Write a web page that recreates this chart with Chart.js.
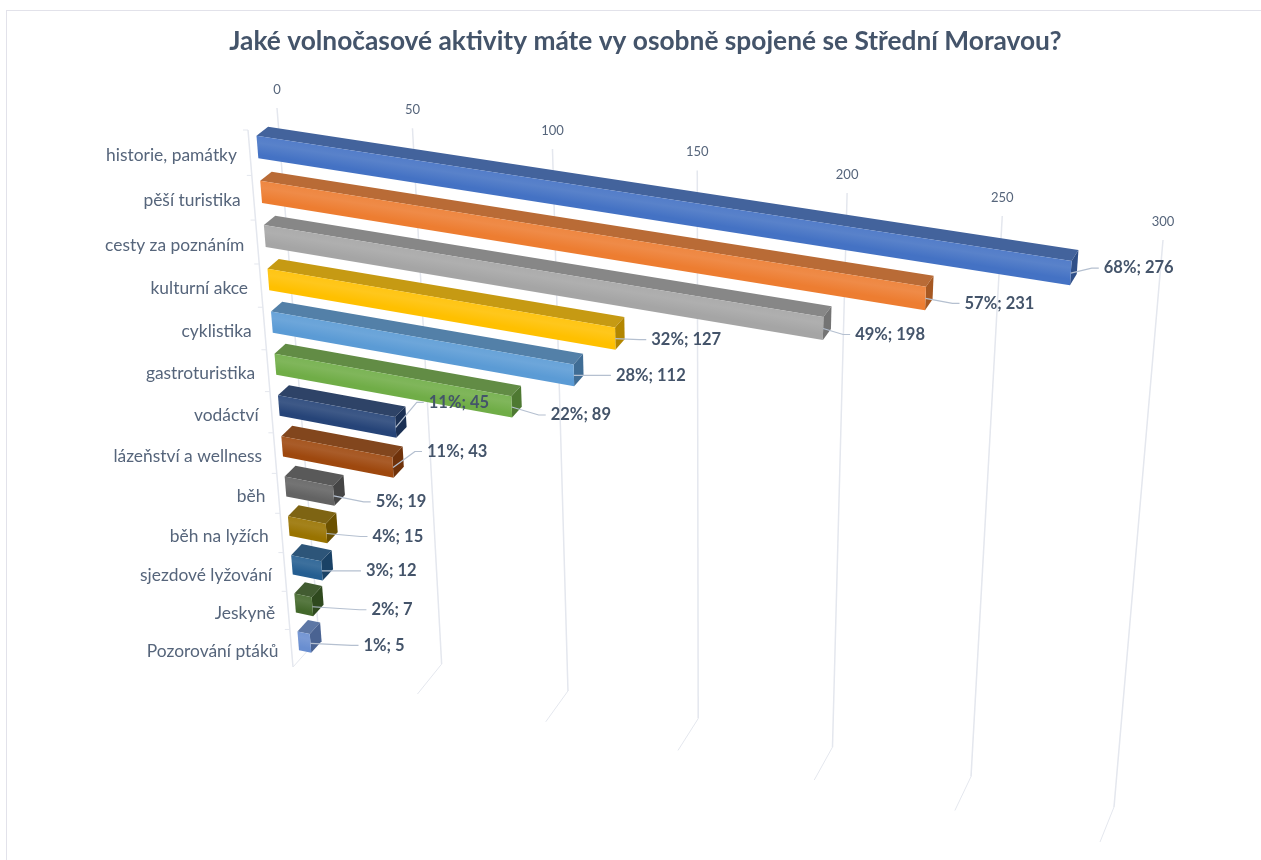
<!DOCTYPE html>
<html lang="cs">
<head>
    <meta charset="UTF-8">
    <title>Volnočasové aktivity</title>
    <script src="https://cdn.jsdelivr.net/npm/chart.js"></script>
    <style>
        body { margin: 0; background: #fff; overflow: hidden; }
        #ramecek { position: absolute; left: 6px; top: 10px; right: 0; bottom: 0; border-left: 1px solid #e2e2ea; border-top: 1px solid #e2e2ea; }
        canvas { position: absolute; left: 0; top: 0; }
    </style>
</head>
<body>
<div id="ramecek"></div>
<canvas id="myChart" width="1261" height="860"></canvas>
<script>
const titulek = 'Jaké volnočasové aktivity máte vy osobně spojené se Střední Moravou?';
const kategorie = ['historie, památky', 'pěší turistika', 'cesty za poznáním', 'kulturní akce', 'cyklistika', 'gastroturistika', 'vodáctví', 'lázeňství a wellness', 'běh', 'běh na lyžích', 'sjezdové lyžování', 'Jeskyně', 'Pozorování ptáků'];
const hodnoty = [276, 231, 198, 127, 112, 89, 45, 43, 19, 15, 12, 7, 5];
const procenta = [68, 57, 49, 32, 28, 22, 11, 11, 5, 4, 3, 2, 1];
const barvy = ['#4472C4', '#ED7D31', '#A5A5A5', '#FFC000', '#5B9BD5', '#70AD47', '#264478', '#9E480E', '#636363', '#997300', '#255E91', '#43682B', '#698ED0'];

// layout of the fake 3D box: back wall and front plane corners (TL, TR, BR, BL)
const STENA = [[277, 108], [1163, 240], [1114, 807], [319, 638]];
const PREDEK = [[248, 130], [1147, 268], [1100, 842], [293, 667]];
const HLOUBKA_ZADNI = 0.34, HLOUBKA_PREDNI = 0.74;
// where each data label sits relative to the end of its bar
const posunPopisku = [[33, -5], [39, 5], [32, 6], [36, 1], [42, 0], [39, 8], [33, -25], [34, -16], [42, 6], [46, 3], [44, 0], [59, 3], [53, 2]];

const BARVA_TEXTU = '#44546A';
const BARVA_OS = '#56657b';
const BARVA_MRIZKY = '#e4e7ee';
const BARVA_VODICE = '#b5c0d0';

// unit square -> quad
function ctverecNaQuad(q) {
    const [[x0, y0], [x1, y1], [x2, y2], [x3, y3]] = q;
    const dx1 = x1 - x2, dx2 = x3 - x2, sx = x0 - x1 + x2 - x3;
    const dy1 = y1 - y2, dy2 = y3 - y2, sy = y0 - y1 + y2 - y3;
    const det = dx1 * dy2 - dx2 * dy1;
    const g = (sx * dy2 - dx2 * sy) / det;
    const h = (dx1 * sy - sx * dy1) / det;
    const a = x1 - x0 + g * x1, b = x3 - x0 + h * x3;
    const d = y1 - y0 + g * y1, e = y3 - y0 + h * y3;
    return function (u, v) {
        const w = g * u + h * v + 1;
        return [(a * u + b * v + x0) / w, (d * u + e * v + y0) / w];
    };
}
const naStenu = ctverecNaQuad(STENA);
const naPredek = ctverecNaQuad(PREDEK);

function bod3d(u, v, d) {
    const a = naStenu(u, v), b = naPredek(u, v);
    return [a[0] + (b[0] - a[0]) * d, a[1] + (b[1] - a[1]) * d];
}

function hexNaRgb(hex) {
    return [1, 3, 5].map(i => parseInt(hex.substr(i, 2), 16));
}
function smes(hex, s, t) {
    const a = hexNaRgb(hex), b = hexNaRgb(s);
    return 'rgb(' + a.map((v, i) => Math.round(v + (b[i] - v) * t)).join(',') + ')';
}
function polygon(ctx, body, fill) {
    ctx.beginPath();
    body.forEach((p, i) => i ? ctx.lineTo(p[0], p[1]) : ctx.moveTo(p[0], p[1]));
    ctx.closePath();
    ctx.fillStyle = fill;
    ctx.fill();
}

const kresba3d = {
    id: 'kresba3d',
    beforeDatasetsDraw(chart) {
        const ctx = chart.ctx, area = chart.chartArea;
        const sx = chart.scales.x, sy = chart.scales.y;
        const U = px => (px - area.left) / area.width;
        const V = px => (px - area.top) / area.height;

        ctx.save();
        // value axis: gridlines on the wall, floor part, tick label above
        ctx.textAlign = 'center';
        ctx.textBaseline = 'middle';
        ctx.font = '13px Lato';
        sx.ticks.forEach(t => {
            const u = U(sx.getPixelForValue(t.value));
            const a = bod3d(u, 0, 0), b = bod3d(u, 1, 0), c = bod3d(u, 1, 1);
            ctx.strokeStyle = BARVA_MRIZKY;
            ctx.lineWidth = 1.5;
            ctx.beginPath();
            ctx.moveTo(a[0], a[1]);
            ctx.lineTo(b[0], b[1]);
            ctx.stroke();
            ctx.lineWidth = 1;
            ctx.beginPath();
            ctx.moveTo(b[0], b[1]);
            ctx.lineTo(c[0], c[1]);
            ctx.stroke();
            ctx.fillStyle = BARVA_OS;
            ctx.fillText(t.label, a[0], a[1] - 18.5);
        });

        // category axis on the front plane
        const osa0 = bod3d(0, 0, 1), osa1 = bod3d(0, 1, 1);
        ctx.strokeStyle = BARVA_MRIZKY;
        ctx.lineWidth = 1.5;
        ctx.beginPath();
        ctx.moveTo(osa0[0], osa0[1]);
        ctx.lineTo(osa1[0], osa1[1]);
        ctx.stroke();
        ctx.lineWidth = 1;
        ctx.textAlign = 'right';
        ctx.font = '17.4px Lato';
        const krok = sy.getPixelForValue(1) - sy.getPixelForValue(0);
        sy.ticks.forEach((t, i) => {
            const py = sy.getPixelForValue(i);
            const h = bod3d(0, V(py - krok / 2), 1);
            ctx.beginPath();
            ctx.moveTo(h[0], h[1]);
            ctx.lineTo(h[0] - 5, h[1]);
            ctx.stroke();
            const p = bod3d(0, V(py), 1);
            ctx.fillStyle = BARVA_OS;
            ctx.fillText(t.label, p[0] - 13, p[1] + 3);
        });

        // bars
        const meta = chart.getDatasetMeta(0);
        const barvyDat = chart.data.datasets[0].backgroundColor;
        const konce = [];
        meta.data.forEach((el, i) => {
            const p = el.getProps(['x', 'y', 'base', 'height']);
            const u0 = U(p.base), u1 = U(p.x);
            const v0 = V(p.y - p.height / 2), v1 = V(p.y + p.height / 2);
            const d0 = HLOUBKA_ZADNI, d1 = HLOUBKA_PREDNI;
            const barva = barvyDat[i];

            polygon(ctx, [bod3d(u0, v0, d0), bod3d(u1, v0, d0), bod3d(u1, v0, d1), bod3d(u0, v0, d1)], smes(barva, '#404040', 0.3));
            polygon(ctx, [bod3d(u1, v0, d1), bod3d(u1, v0, d0), bod3d(u1, v1, d0), bod3d(u1, v1, d1)], smes(barva, '#000000', 0.3));

            // gradient runs across the bar, square to its top edge
            const tl = bod3d(u0, v0, d1), tr = bod3d(u1, v0, d1);
            const g0 = bod3d((u0 + u1) / 2, v0, d1), g1 = bod3d((u0 + u1) / 2, v1, d1);
            const delka = Math.hypot(tr[0] - tl[0], tr[1] - tl[1]);
            const nx = -(tr[1] - tl[1]) / delka, ny = (tr[0] - tl[0]) / delka;
            const sk = (g1[0] - g0[0]) * nx + (g1[1] - g0[1]) * ny;
            const grad = ctx.createLinearGradient(g0[0], g0[1], g0[0] + nx * sk, g0[1] + ny * sk);
            grad.addColorStop(0, smes(barva, '#ffffff', 0.08));
            grad.addColorStop(0.3, smes(barva, '#ffffff', 0.11));
            grad.addColorStop(0.8, barva);
            grad.addColorStop(1, barva);
            polygon(ctx, [tl, tr, bod3d(u1, v1, d1), bod3d(u0, v1, d1)], grad);

            konce.push(bod3d(u1, V(p.y), d1));
        });

        // data labels with leader lines
        ctx.textAlign = 'left';
        ctx.font = 'bold 16.5px Lato';
        konce.forEach((s, i) => {
            const x = s[0] + posunPopisku[i][0], y = s[1] + posunPopisku[i][1];
            ctx.strokeStyle = BARVA_VODICE;
            ctx.lineWidth = 1.2;
            ctx.lineJoin = 'round';
            ctx.beginPath();
            ctx.moveTo(s[0], s[1]);
            ctx.lineTo(x - 12, y);
            ctx.lineTo(x - 5, y);
            ctx.stroke();
            ctx.fillStyle = BARVA_TEXTU;
            ctx.fillText(procenta[i] + '%; ' + hodnoty[i], x, y);
        });
        ctx.restore();
        return false;
    }
};

new Chart(document.getElementById('myChart'), {
    type: 'bar',
    data: {
        labels: kategorie,
        datasets: [{
            label: 'Počet odpovědí',
            data: hodnoty,
            backgroundColor: barvy,
            categoryPercentage: 1,
            barPercentage: 0.5
        }]
    },
    options: {
        indexAxis: 'y',
        responsive: false,
        animation: false,
        layout: { padding: { left: 30 } },
        scales: {
            x: { display: false, min: 0, max: 300, ticks: { stepSize: 50 } },
            y: { display: false, ticks: { autoSkip: false } }
        },
        plugins: {
            legend: { display: false },
            tooltip: { enabled: false },
            title: {
                display: true,
                text: titulek,
                color: BARVA_TEXTU,
                font: { family: 'Lato', size: 26.3, weight: 'bold' },
                padding: { top: 26, bottom: 10 }
            }
        }
    },
    plugins: [kresba3d]
});
</script>
</body>
</html>
